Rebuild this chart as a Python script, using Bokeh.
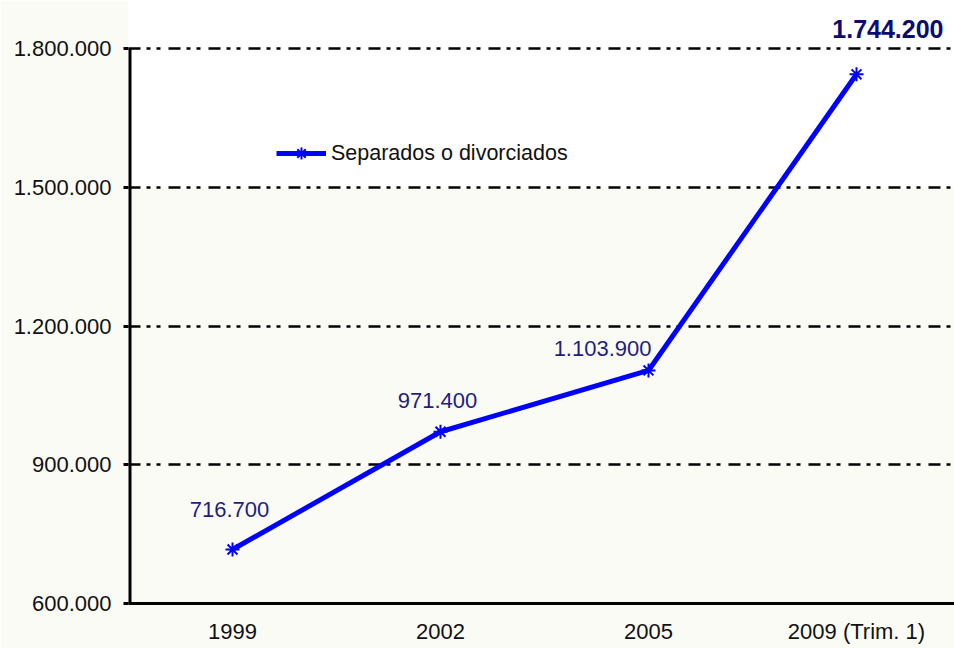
from bokeh.plotting import figure
from bokeh.models import Range1d, FixedTicker, BoxAnnotation, Label, Legend
from bokeh.embed import file_html
from bokeh.resources import INLINE

# ---- data ----
categories = ["1999", "2002", "2005", "2009 (Trim. 1)"]
values = [716700, 971400, 1103900, 1744200]
y_ticks = [600000, 900000, 1200000, 1500000, 1800000]
series_name = "Separados o divorciados"

def fmt(v):
    return f"{v:,}".replace(",", ".")

xs = list(range(len(categories)))

BG = "#FBFBF6"
BLUE = "#0000FF"
NAVY = "#1f1f80"
FONT = "Liberation Sans"

p = figure(width=954, height=648, output_backend="svg", toolbar_location=None,
           x_range=Range1d(-0.5, -0.5 + 826 / 208), y_range=Range1d(600000, 1903784),
           min_border_left=128, min_border_right=0, min_border_top=0, min_border_bottom=45)
p.background_fill_color = BG
p.border_fill_color = BG
p.outline_line_color = None

# white band above 1.500.000
band = BoxAnnotation(bottom=1500000, fill_color="white", fill_alpha=1.0, line_color=None, level="image")
p.add_layout(band)

# grid
p.xgrid.grid_line_color = None
p.ygrid.ticker = FixedTicker(ticks=y_ticks)
p.ygrid.grid_line_color = "black"
p.ygrid.grid_line_width = 2.5
p.ygrid.grid_line_dash = "12 6 4 6 4 8"

# y axis
p.yaxis.ticker = FixedTicker(ticks=y_ticks)
p.yaxis.major_label_overrides = {t: fmt(t) for t in y_ticks}
p.yaxis.axis_line_color = None
p.yaxis.major_tick_line_color = "black"
p.yaxis.major_tick_line_width = 3
p.yaxis.major_tick_out = 5
p.yaxis.major_tick_in = 0
p.yaxis.minor_tick_line_color = None
p.yaxis.major_label_standoff = 12
p.yaxis.major_label_text_font = FONT
p.yaxis.major_label_text_font_size = "22px"
p.yaxis.major_label_text_color = "#111111"

# y axis line only up to top tick
p.segment(x0=[-0.5], y0=[y_ticks[0]], x1=[-0.5], y1=[y_ticks[-1]], line_color="black", line_width=6)

# x axis
p.xaxis.ticker = FixedTicker(ticks=xs)
p.xaxis.major_label_overrides = {i: c for i, c in zip(xs, categories)}
p.xaxis.axis_line_color = "black"
p.xaxis.axis_line_width = 3
p.xaxis.major_tick_line_color = None
p.xaxis.major_tick_out = 0
p.xaxis.major_tick_in = 0
p.xaxis.minor_tick_line_color = None
p.xaxis.major_label_standoff = 15
p.xaxis.major_label_text_font = FONT
p.xaxis.major_label_text_font_size = "22px"
p.xaxis.major_label_text_color = "#111111"

# series
r_line = p.line(xs, values, line_color=BLUE, line_width=5)
r_pts = p.scatter(xs, values, marker="asterisk", size=14, line_color=BLUE, line_width=2)

legend = Legend(items=[(series_name, [r_line, r_pts])], location=(148, 435))
legend.border_line_color = None
legend.background_fill_alpha = 0
legend.glyph_width = 50
legend.glyph_height = 30
legend.label_standoff = 5
legend.padding = 0
legend.margin = 0
legend.spacing = 0
legend.label_text_font = FONT
legend.label_text_font_size = "21.5px"
legend.label_text_color = "#111111"
p.add_layout(legend)

# data labels
offsets = [(-3, 40, "center"), (-3, 31, "center"), (3, 22, "right")]
for i in range(3):
    dx, dy, al = offsets[i]
    p.add_layout(Label(x=xs[i], y=values[i], text=fmt(values[i]), x_offset=dx, y_offset=dy,
                       text_align=al, text_baseline="alphabetic", text_font=FONT,
                       text_font_size="22px", text_color=NAVY))
p.add_layout(Label(x=xs[3], y=values[3], text=fmt(values[3]), x_offset=87, y_offset=45,
                   text_align="right", text_baseline="alphabetic",
                   text_font=FONT, text_font_style="bold",
                   text_font_size="25px", text_color="#0b0b72"))

open("out.html", "w").write(file_html(p, INLINE))
